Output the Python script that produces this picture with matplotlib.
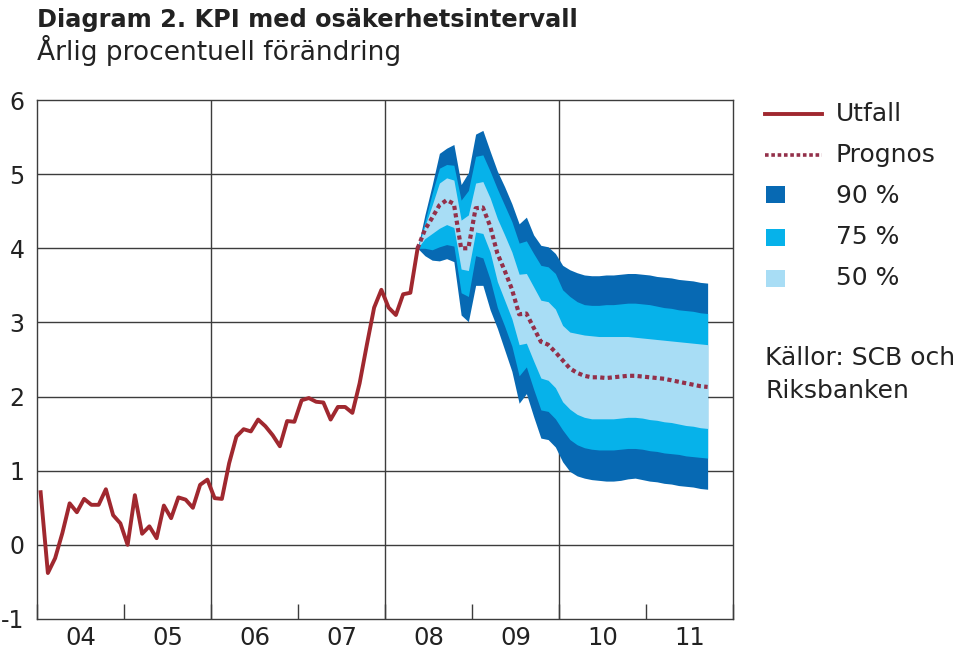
import numpy as np
import pandas as pd
import matplotlib
matplotlib.use("Agg")
import matplotlib.pyplot as plt
from matplotlib.lines import Line2D
from matplotlib.patches import Rectangle

plt.rcParams['font.family'] = ['DejaVu Sans']
plt.rcParams['axes.unicode_minus'] = False

# Utfall, KPI monthly, Jan 2004 - May 2008
utfall = [0.71, -0.38, -0.18, 0.16, 0.56, 0.44, 0.62, 0.54, 0.54, 0.75, 0.40, 0.29,
          0.00, 0.67, 0.15, 0.25, 0.09, 0.53, 0.36, 0.64, 0.61, 0.50, 0.81, 0.88,
          0.63, 0.62, 1.10, 1.46, 1.56, 1.53, 1.69, 1.60, 1.48, 1.33, 1.67, 1.66,
          1.95, 1.98, 1.93, 1.92, 1.69, 1.86, 1.86, 1.78, 2.18, 2.70, 3.20, 3.44,
          3.20, 3.10, 3.38, 3.40, 4.00]

# Prognos and interval limits, May 2008 - Sep 2011
prognos = [4.00, 4.25, 4.41, 4.58, 4.65, 4.60, 4.00, 4.00,
           4.54, 4.55, 4.30, 3.93, 3.70, 3.45, 3.11, 3.12, 2.93, 2.74, 2.70, 2.60,
           2.49, 2.38, 2.32, 2.28, 2.26, 2.26, 2.25, 2.26, 2.27, 2.28, 2.28, 2.27,
           2.26, 2.25, 2.24, 2.22, 2.20, 2.18, 2.16, 2.14, 2.13]
upper90 = [4.00, 4.45, 4.85, 5.28, 5.35, 5.40, 4.86, 5.02,
           5.54, 5.59, 5.31, 5.04, 4.83, 4.60, 4.33, 4.42, 4.18, 4.04, 4.02, 3.93,
           3.77, 3.71, 3.67, 3.64, 3.63, 3.63, 3.64, 3.64, 3.65, 3.66, 3.66, 3.65,
           3.64, 3.62, 3.61, 3.60, 3.58, 3.57, 3.56, 3.54, 3.53]
upper75 = [4.00, 4.36, 4.74, 5.08, 5.13, 5.12, 4.65, 4.78,
           5.24, 5.26, 5.04, 4.80, 4.58, 4.36, 4.07, 4.10, 3.93, 3.77, 3.75, 3.66,
           3.44, 3.35, 3.28, 3.24, 3.23, 3.23, 3.24, 3.24, 3.25, 3.26, 3.26, 3.25,
           3.24, 3.22, 3.20, 3.19, 3.17, 3.16, 3.15, 3.13, 3.12]
upper50 = [4.00, 4.30, 4.58, 4.88, 4.95, 4.92, 4.38, 4.45,
           4.88, 4.90, 4.68, 4.40, 4.18, 3.95, 3.65, 3.66, 3.48, 3.30, 3.28, 3.18,
           2.96, 2.87, 2.85, 2.83, 2.82, 2.81, 2.81, 2.81, 2.81, 2.81, 2.80, 2.79,
           2.78, 2.77, 2.76, 2.75, 2.74, 2.73, 2.72, 2.71, 2.70]
lower50 = [4.00, 4.13, 4.20, 4.27, 4.32, 4.28, 3.72, 3.70,
           4.22, 4.20, 3.95, 3.55, 3.30, 3.05, 2.70, 2.72, 2.48, 2.25, 2.22, 2.12,
           1.93, 1.83, 1.76, 1.72, 1.70, 1.70, 1.70, 1.70, 1.71, 1.72, 1.72, 1.71,
           1.69, 1.68, 1.66, 1.65, 1.63, 1.61, 1.60, 1.58, 1.57]
lower75 = [4.00, 4.00, 3.98, 4.02, 4.05, 4.03, 3.40, 3.35,
           3.90, 3.87, 3.58, 3.20, 2.95, 2.68, 2.28, 2.40, 2.10, 1.82, 1.80, 1.70,
           1.55, 1.42, 1.35, 1.31, 1.29, 1.28, 1.28, 1.28, 1.29, 1.30, 1.30, 1.29,
           1.27, 1.26, 1.24, 1.23, 1.22, 1.20, 1.19, 1.18, 1.17]
lower90 = [4.00, 3.90, 3.84, 3.83, 3.86, 3.82, 3.10, 3.01,
           3.50, 3.50, 3.17, 2.92, 2.63, 2.34, 1.91, 2.04, 1.73, 1.44, 1.42, 1.32,
           1.12, 0.99, 0.93, 0.90, 0.88, 0.87, 0.86, 0.86, 0.87, 0.89, 0.90, 0.88,
           0.86, 0.85, 0.83, 0.82, 0.80, 0.79, 0.78, 0.76, 0.75]

year_labels = ['04', '05', '06', '07', '08', '09', '10', '11']


def to_year(periods):
    return periods.year + (periods.month - 0.5) / 12


t_utfall = to_year(pd.period_range('2004-01', periods=len(utfall), freq='M'))
t_prog = to_year(pd.period_range('2008-05', periods=len(prognos), freq='M'))

dark = '#0769b3'
mid = '#06b2ea'
light = '#a8ddf5'
red = '#a0282f'
dotc = '#93304a'
grid = '#3c3c3c'
txtc = '#222222'

fig = plt.figure(figsize=(9.6, 6.49), dpi=100)
ax = fig.add_axes([37 / 960, 1 - 619 / 649, 696 / 960, 519 / 649])

ax.fill_between(t_prog, lower90, upper90, color=dark, lw=0, zorder=2)
ax.fill_between(t_prog, lower75, upper75, color=mid, lw=0, zorder=2)
ax.fill_between(t_prog, lower50, upper50, color=light, lw=0, zorder=2)

ax.plot(t_utfall, utfall, color=red, lw=2.8, zorder=4, solid_joinstyle='round')
ax.plot(t_prog, prognos, color=dotc, lw=3.0, ls=(0, (1.0, 0.8)), zorder=4)

ax.set_xlim(2004, 2012)
ax.set_ylim(-1, 6)
ax.set_yticks(range(-1, 7))
ax.tick_params(axis='y', length=0, pad=9, labelsize=17, colors=txtc)

ax.set_xticks(range(2004, 2013))
ax.set_xticklabels([])
ax.set_xticks(np.arange(2004.5, 2012, 1), minor=True)
ax.set_xticklabels(year_labels, minor=True)
ax.tick_params(axis='x', which='major', direction='in', length=11, width=1, color=grid)
ax.tick_params(axis='x', which='minor', length=0, pad=5, labelsize=17.5, colors=txtc)

for yv in range(0, 6):
    ax.axhline(yv, color=grid, lw=1.0, zorder=1)
for xv in (2006, 2008, 2010):
    ax.axvline(xv, color=grid, lw=1.0, zorder=1)
for s in ax.spines.values():
    s.set_color(grid)
    s.set_linewidth(1.0)

fig.text(37 / 960, 1 - 27 / 649, 'Diagram 2. KPI med osäkerhetsintervall',
         fontsize=17.3, fontweight='bold', color=txtc, va='baseline')
fig.text(37 / 960, 1 - 60 / 649, 'Årlig procentuell förändring',
         fontsize=19, color=txtc, va='baseline')


def fx(px):
    return px / 960


def fy(py):
    return 1 - py / 649


# legend, drawn by hand to place it like the original
fig.add_artist(Line2D([fx(765), fx(822)], [fy(114), fy(114)], color=red, lw=2.8))
fig.add_artist(Line2D([fx(765), fx(822)], [fy(155), fy(155)], color=dotc, lw=2.6,
                      ls=(0, (1.0, 0.75))))
for py, c in ((186, dark), (229, mid), (270, light)):
    fig.add_artist(Rectangle((fx(766), fy(py + 17)), 19 / 960, 17 / 649, color=c, lw=0))

legend_items = [('Utfall', 114), ('Prognos', 155), ('90 %', 196), ('75 %', 237), ('50 %', 278)]
for txt, py in legend_items:
    fig.text(fx(836), fy(py), txt, fontsize=18, va='center', color=txtc)
fig.text(fx(765), fy(358), 'Källor: SCB och', fontsize=18, va='center', color=txtc)
fig.text(fx(765), fy(391), 'Riksbanken', fontsize=18, va='center', color=txtc)

fig.savefig('out.png', dpi=100)
